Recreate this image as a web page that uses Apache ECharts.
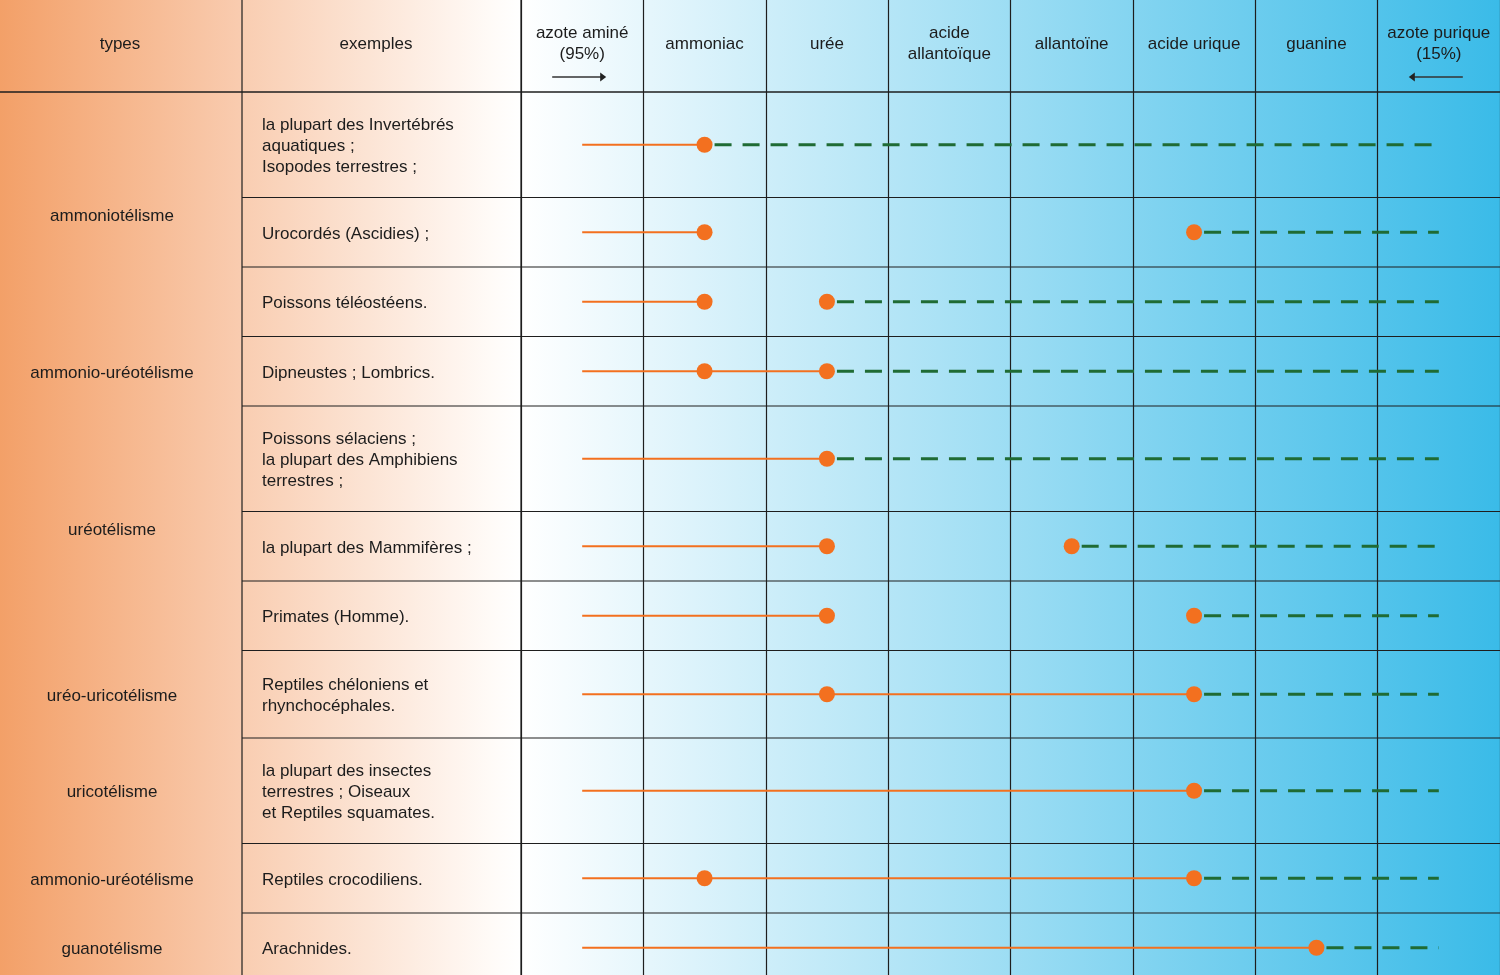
<!DOCTYPE html>
<html><head><meta charset="utf-8">
<script src="https://cdn.jsdelivr.net/npm/echarts@6/dist/echarts.min.js"></script>
<style>html,body{margin:0;padding:0;background:#fff}#c{width:1500px;height:975px}</style>
</head><body><div id="c"></div>
<script>
// ---- data ----
const compounds = ['azote aminé\n(95%)', 'ammoniac', 'urée', 'acide\nallantoïque', 'allantoïne', 'acide urique', 'guanine', 'azote purique\n(15%)'];
const examples = [
  'la plupart des Invertébrés\naquatiques ;\nIsopodes terrestres ;',
  'Urocordés (Ascidies) ;',
  'Poissons téléostéens.',
  'Dipneustes ; Lombrics.',
  'Poissons sélaciens ;\nla plupart des Amphibiens\nterrestres ;',
  'la plupart des Mammifères ;',
  'Primates (Homme).',
  'Reptiles chéloniens et\nrhynchocéphales.',
  'la plupart des insectes\nterrestres ; Oiseaux\net Reptiles squamates.',
  'Reptiles crocodiliens.',
  'Arachnides.'
];
const typeLabels = ['ammoniotélisme', 'ammonio-uréotélisme', 'uréotélisme', 'uréo-uricotélisme', 'uricotélisme', 'ammonio-uréotélisme', 'guanotélisme'];
const typeFirstRow = [0, 3, 4, 7, 8, 9, 10];
const typeLastRow  = [2, 3, 6, 7, 8, 9, 10];
const solidEnd  = [1, 1, 1, 2, 2, 2, 2, 5, 5, 5, 6];
const dashStart = [1, 5, 2, 2, 2, 4, 5, 5, 5, 5, 6];
const dots = [[1], [1, 5], [1, 2], [1, 2], [2], [2, 4], [2, 5], [2, 5], [5], [1, 5], [6]];
const arrowCols = [0, 7];
const arrowDirs = [1, -1];

// ---- layout derived from text ----
const HEADER = 92;
const VISIBLE = 975 - HEADER;   // visible part of the table body (last row is cut by the frame)
const rowTop = [], rowBot = [], rowMid = [];
let acc = 0;
examples.forEach(t => {
  const h = 51.5 + 18 * t.split('\n').length;
  rowTop.push(acc); acc += h; rowBot.push(acc); rowMid.push(acc - h / 2);
});
const TOTAL = acc;
const LAST = compounds.length - 1;

const FONT = '17px "Liberation Sans", Arial, sans-serif';
const TXT = '#1c1c1c';
const ORANGE = '#f3701f';
const GREEN = '#1f6b34';
const LINE = '#1e1e1e';

const chart = echarts.init(document.getElementById('c'), null, {renderer: 'canvas'});
const series = [];

// frame + left headers
series.push({
  type: 'custom', coordinateSystem: 'cartesian2d', silent: true, clip: false, z: 1,
  data: [[0, 0]],
  renderItem(params, api) {
    const cs = params.coordSys;
    const y0 = api.coord([0, 0])[1];
    const yTop = api.coord([0, -HEADER])[1];
    const yBot = api.coord([0, TOTAL])[1];
    const yHead = api.coord([0, -HEADER / 2 - 2])[1];
    const right = cs.x + cs.width;
    return {type: 'group', children: [
      {type: 'line', shape: {x1: 0, y1: y0, x2: right, y2: y0}, style: {stroke: LINE, lineWidth: 1.4}},
      {type: 'line', shape: {x1: 242, y1: yTop, x2: 242, y2: yBot}, style: {stroke: LINE, lineWidth: 1.2}},
      {type: 'line', shape: {x1: cs.x, y1: yTop, x2: cs.x, y2: yBot}, style: {stroke: LINE, lineWidth: 1.2}},
      {type: 'text', x: 120, y: yHead, style: {text: 'types', font: FONT, fill: TXT, align: 'center', verticalAlign: 'middle'}},
      {type: 'text', x: 376, y: yHead, style: {text: 'exemples', font: FONT, fill: TXT, align: 'center', verticalAlign: 'middle'}}
    ]};
  }
});

// example rows
series.push({
  type: 'custom', coordinateSystem: 'cartesian2d', silent: true, clip: false, z: 1,
  data: examples.map((t, i) => [0, rowMid[i], i]),
  renderItem(params, api) {
    const i = api.value(2);
    const cs = params.coordSys;
    const yb = api.coord([0, rowBot[i]])[1];
    const ym = api.coord([0, rowMid[i]])[1];
    return {type: 'group', children: [
      {type: 'text', x: 262, y: ym + 2, style: {text: examples[i], font: FONT, fill: TXT, align: 'left', verticalAlign: 'middle', lineHeight: 21}},
      {type: 'line', shape: {x1: 242, y1: yb, x2: cs.x + cs.width, y2: yb}, style: {stroke: LINE, lineWidth: 1.2}}
    ]};
  }
});

// type labels
series.push({
  type: 'custom', coordinateSystem: 'cartesian2d', silent: true, clip: false, z: 1,
  data: typeLabels.map((t, k) => [0, (rowTop[typeFirstRow[k]] + rowBot[typeLastRow[k]]) / 2, k]),
  renderItem(params, api) {
    const k = api.value(2);
    const ym = api.coord([0, api.value(1)])[1];
    return {type: 'text', x: 112, y: ym + 2, style: {text: typeLabels[k], font: FONT, fill: TXT, align: 'center', verticalAlign: 'middle'}};
  }
});

// header arrows
series.push({
  type: 'custom', coordinateSystem: 'cartesian2d', silent: true, clip: false, z: 1,
  data: arrowCols.map((c, k) => [c, -15, arrowDirs[k]]),
  renderItem(params, api) {
    const p = api.coord([api.value(0), api.value(1)]);
    const d = api.value(2);
    const cx = p[0] - 3;
    const tip = cx + 27 * d;
    return {type: 'group', children: [
      {type: 'line', shape: {x1: cx - 27 * d, y1: p[1], x2: tip - 4 * d, y2: p[1]}, style: {stroke: '#333', lineWidth: 1.3}},
      {type: 'polygon', shape: {points: [[tip, p[1]], [tip - 6 * d, p[1] - 4.5], [tip - 6 * d, p[1] + 4.5]]}, style: {fill: '#222'}}
    ]};
  }
});

// data lines
examples.forEach((t, i) => {
  series.push({
    type: 'line', silent: true, symbol: 'none', z: 4, clip: false,
    lineStyle: {color: ORANGE, width: 2},
    data: [[0, rowMid[i]], [solidEnd[i], rowMid[i]]]
  });
  series.push({
    type: 'line', silent: true, symbol: 'none', z: 3, clip: false,
    lineStyle: {color: GREEN, width: 3, type: [17, 11], dashOffset: -10},
    data: [[dashStart[i], rowMid[i]], [LAST, rowMid[i]]]
  });
});
const dotData = [];
dots.forEach((arr, i) => arr.forEach(c => dotData.push([c, rowMid[i]])));
series.push({
  type: 'scatter', silent: true, z: 5, symbol: 'circle', symbolSize: 16, clip: false,
  itemStyle: {color: ORANGE, opacity: 1},
  data: dotData
});

chart.setOption({
  animation: false,
  backgroundColor: '#fff',
  graphic: {elements: [
    {type: 'rect', z: -10, shape: {x: 0, y: 0, width: 242, height: 975},
     style: {fill: new echarts.graphic.LinearGradient(0, 0, 1, 0, [{offset: 0, color: '#f3a068'}, {offset: 1, color: '#f9ccb0'}])}},
    {type: 'rect', z: -10, shape: {x: 242, y: 0, width: 279, height: 975},
     style: {fill: new echarts.graphic.LinearGradient(0, 0, 1, 0, [{offset: 0, color: '#f9cdb1'}, {offset: 0.9, color: '#fffbf8'}, {offset: 1, color: '#ffffff'}])}},
    {type: 'rect', z: -10, shape: {x: 521, y: 0, width: 979, height: 975},
     style: {fill: new echarts.graphic.LinearGradient(0, 0, 1, 0, [{offset: 0, color: '#ffffff'}, {offset: 1, color: '#3abbe8'}])}}
  ]},
  grid: {left: 521, right: 0, top: 0, bottom: 0, containLabel: false},
  xAxis: {
    type: 'category', data: compounds, position: 'top', boundaryGap: true,
    axisLine: {show: false}, axisTick: {show: false},
    axisLabel: {inside: true, interval: 0, margin: 44, verticalAlign: 'middle', fontSize: 17, fontFamily: '"Liberation Sans", Arial, sans-serif', color: TXT, lineHeight: 21},
    splitLine: {show: true, interval: 0, lineStyle: {color: LINE, width: 1.2}}
  },
  yAxis: {type: 'value', inverse: true, min: -HEADER, max: VISIBLE, show: false, splitLine: {show: false}},
  series
});
</script>
</body></html>
